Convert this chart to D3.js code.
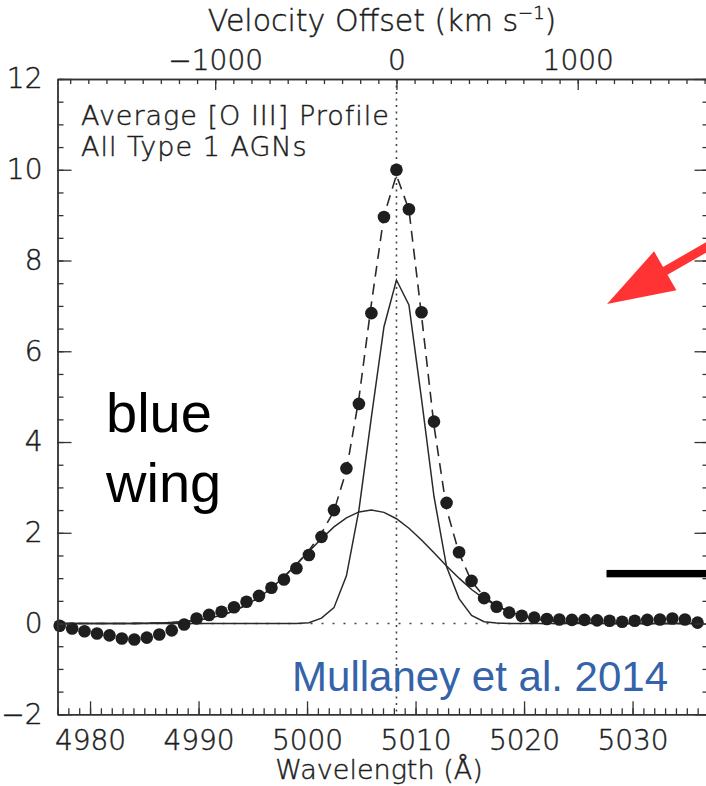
<!DOCTYPE html>
<html>
<head>
<meta charset="utf-8">
<script src="https://cdn.jsdelivr.net/npm/d3@7/dist/d3.min.js"></script>
<style>
  html, body { margin: 0; padding: 0; background: #fff; }
  svg { display: block; }
  .lab, .ax text {
    font-family: "DejaVu Sans", sans-serif; font-weight: 300;
    fill: #1c1c1c; stroke: #1c1c1c; stroke-width: 0.45px;
  }
</style>
</head>
<body>
<svg id="chart" width="706" height="786"></svg>
<script>
// Average [O III] 5007 profile of type 1 AGNs, with a two-Gaussian decomposition.
const restWavelength = 5008.24;          // vacuum [O III] line centre, Å
const speedOfLight = 299792.458;         // km/s

// Spectral pixels (Å)
const wavelength = [
  4977.20, 4978.35, 4979.49, 4980.64, 4981.79, 4982.93, 4984.08, 4985.23, 4986.38, 4987.53,
  4988.67, 4989.82, 4990.97, 4992.12, 4993.27, 4994.42, 4995.57, 4996.72, 4997.87, 4999.02,
  5000.17, 5001.33, 5002.48, 5003.63, 5004.78, 5005.93, 5007.09, 5008.24, 5009.39, 5010.55,
  5011.70, 5012.86, 5014.01, 5015.16, 5016.32, 5017.47, 5018.63, 5019.79, 5020.94, 5022.10,
  5023.25, 5024.41, 5025.57, 5026.73, 5027.88, 5029.04, 5030.20, 5031.36, 5032.52, 5033.67,
  5034.83, 5035.99
];

// Stacked flux
const observed = [
  -0.05, -0.11, -0.17, -0.22, -0.26, -0.33, -0.35, -0.31, -0.24, -0.15,
  -0.02, 0.11, 0.19, 0.26, 0.36, 0.48, 0.61, 0.79, 0.97, 1.22,
  1.51, 1.91, 2.50, 3.42, 4.84, 6.84, 8.96, 10.00, 9.13, 6.86,
  4.45, 2.66, 1.57, 0.94, 0.56, 0.37, 0.24, 0.17, 0.13, 0.10,
  0.09, 0.08, 0.08, 0.07, 0.06, 0.04, 0.06, 0.08, 0.09, 0.11,
  0.09, 0.02
];

// Narrow (core) Gaussian component
const narrowFit = [
  0, 0, 0, 0, 0, 0, 0, 0, 0, 0,
  0, 0, 0, 0, 0, 0, 0, 0, 0, 0,
  0.02, 0.12, 0.35, 1.05, 2.50, 4.55, 6.54, 7.57, 7.02, 4.95,
  2.80, 1.25, 0.55, 0.18, 0.04, 0.01, 0, 0, 0, 0,
  0, 0, 0, 0, 0, 0, 0, 0, 0, 0,
  0, 0
];

// Broad (wing) Gaussian component
const broadFit = [
  0, 0, 0, 0, 0.001, 0.002, 0.003, 0.007, 0.013, 0.023,
  0.04, 0.07, 0.115, 0.18, 0.28, 0.41, 0.575, 0.78, 1.03, 1.30,
  1.59, 1.87, 2.13, 2.33, 2.46, 2.50, 2.45, 2.31, 2.10, 1.84,
  1.56, 1.27, 1.00, 0.75, 0.55, 0.39, 0.26, 0.17, 0.107, 0.065,
  0.038, 0.021, 0.012, 0.006, 0.003, 0.001, 0, 0, 0, 0,
  0, 0
];

// Combined fit
const totalFit = [
  0, 0, 0, 0, 0.001, 0.002, 0.003, 0.007, 0.013, 0.023,
  0.04, 0.07, 0.115, 0.18, 0.28, 0.41, 0.575, 0.78, 1.03, 1.30,
  1.61, 1.99, 2.48, 3.38, 4.96, 7.05, 8.99, 9.88, 9.12, 6.79,
  4.36, 2.52, 1.55, 0.93, 0.59, 0.40, 0.26, 0.17, 0.107, 0.065,
  0.038, 0.021, 0.012, 0.006, 0.003, 0.001, 0, 0, 0, 0,
  0, 0
];

const wavelengthTicks = [4980, 4990, 5000, 5010, 5020, 5030];
const fluxTicks = [-2, 0, 2, 4, 6, 8, 10, 12];
const velocityTicks = [-1000, 0, 1000];

const svg = d3.select("#chart");
const plotLeft = 57.5, plotRight = 708.5, plotTop = 79, plotBottom = 714.3;
const axisColor = "#333";

const x = d3.scaleLinear().domain([4977, 5037]).range([plotLeft, plotRight]);
const y = d3.scaleLinear().domain([-2, 12]).range([plotBottom, plotTop]);
const toVelocity = l => speedOfLight * (l - restWavelength) / restWavelength;
const xv = d3.scaleLinear().domain(x.domain().map(toVelocity)).range([plotLeft, plotRight]);

svg.append("defs").append("clipPath").attr("id", "plotClip")
  .append("rect").attr("x", plotLeft).attr("y", plotTop)
  .attr("width", plotRight - plotLeft).attr("height", plotBottom - plotTop);

// Reference lines: zero flux and line centre
const plot = svg.append("g").attr("clip-path", "url(#plotClip)");
plot.append("line")
  .attr("x1", plotLeft).attr("x2", plotRight).attr("y1", y(0)).attr("y2", y(0))
  .attr("stroke", "#444").attr("stroke-width", 1.6).attr("stroke-dasharray", "2,9");
plot.append("line")
  .attr("x1", x(restWavelength)).attr("x2", x(restWavelength)).attr("y1", plotTop).attr("y2", plotBottom)
  .attr("stroke", "#444").attr("stroke-width", 1.6).attr("stroke-dasharray", "2,4.5");

const line = series => d3.line()
  .x((d, i) => x(wavelength[i]))
  .y(d => y(d))(series);

plot.append("path").attr("d", line(narrowFit))
  .attr("fill", "none").attr("stroke", "#2a2a2a").attr("stroke-width", 1.5);
plot.append("path").attr("d", line(broadFit))
  .attr("fill", "none").attr("stroke", "#2a2a2a").attr("stroke-width", 1.5);
plot.append("path").attr("d", line(totalFit))
  .attr("fill", "none").attr("stroke", "#2a2a2a").attr("stroke-width", 1.6)
  .attr("stroke-dasharray", "11,7");

svg.append("g").selectAll("circle").data(observed).join("circle")
  .attr("cx", (d, i) => x(wavelength[i]))
  .attr("cy", d => y(d))
  .attr("r", 6.3)
  .attr("fill", "#1e1e1e");

// Axes
function styleAxis(g, fontSize) {
  g.attr("class", "ax");
  g.selectAll("path.domain").attr("stroke", axisColor).attr("stroke-width", 1.4);
  g.selectAll(".tick line").attr("stroke", axisColor).attr("stroke-width", 1.3);
  g.selectAll(".tick text").attr("font-size", fontSize).attr("font-family", null).attr("fill", null);
}

const minorWave = d3.range(4977, 5038, 1);
const minorFlux = d3.range(-2, 12.01, 0.5);
const minorVel = d3.range(-1800, 1701, 100);

// bottom
svg.append("g").attr("transform", `translate(0,${plotBottom})`)
  .call(d3.axisBottom(x).tickValues(minorWave).tickSize(-6).tickSizeOuter(0).tickFormat(""))
  .call(g => styleAxis(g, 28));
svg.append("g").attr("transform", `translate(0,${plotBottom})`)
  .call(d3.axisBottom(x).tickValues(wavelengthTicks).tickSize(-13).tickSizeOuter(0)
    .tickPadding(16).tickFormat(d3.format("d")))
  .call(g => styleAxis(g, 28));

// top
svg.append("g").attr("transform", `translate(0,${plotTop})`)
  .call(d3.axisTop(xv).tickValues(minorVel).tickSize(-5).tickSizeOuter(0).tickFormat(""))
  .call(g => styleAxis(g, 28));
svg.append("g").attr("transform", `translate(0,${plotTop})`)
  .call(d3.axisTop(xv).tickValues(velocityTicks).tickSize(-11).tickSizeOuter(0)
    .tickPadding(9).tickFormat(d3.format("d")))
  .call(g => styleAxis(g, 28));

// left
svg.append("g").attr("transform", `translate(${plotLeft},0)`)
  .call(d3.axisLeft(y).tickValues(minorFlux).tickSize(-6).tickSizeOuter(0).tickFormat(""))
  .call(g => styleAxis(g, 28));
svg.append("g").attr("transform", `translate(${plotLeft},0)`)
  .call(d3.axisLeft(y).tickValues(fluxTicks).tickSize(-14).tickSizeOuter(0)
    .tickPadding(15).tickFormat(d3.format("d")))
  .call(g => styleAxis(g, 28));

// right
svg.append("g").attr("transform", `translate(${plotRight},0)`)
  .call(d3.axisRight(y).tickValues(minorFlux).tickSize(-6).tickSizeOuter(0).tickFormat(""))
  .call(g => styleAxis(g, 28));
svg.append("g").attr("transform", `translate(${plotRight},0)`)
  .call(d3.axisRight(y).tickValues(fluxTicks).tickSize(-14).tickSizeOuter(0).tickFormat(""))
  .call(g => styleAxis(g, 28));

// Axis titles
const cx = (plotLeft + plotRight) / 2;
const title = svg.append("text").attr("class", "lab")
  .attr("x", cx - 1).attr("y", 31).attr("text-anchor", "middle")
  .attr("font-size", 30);
title.append("tspan").text("Velocity Offset (km s");
title.append("tspan").attr("font-size", 18).attr("dy", -12).text("\u22121");
title.append("tspan").attr("dy", 12).text(")");

svg.append("text").attr("class", "lab")
  .attr("x", cx - 4).attr("y", 779).attr("text-anchor", "middle")
  .attr("font-size", 27)
  .text("Wavelength (\u00C5)");

// Panel label (two lines)
const panel = svg.append("text").attr("class", "lab")
  .attr("font-size", 27).attr("letter-spacing", 1);
panel.append("tspan").attr("x", 81).attr("y", 125).text("Average [O III] Profile");
panel.append("tspan").attr("x", 81).attr("y", 156).text("All Type 1 AGNs");

// Annotations
svg.append("text")
  .attr("x", 106).attr("y", 432)
  .attr("font-family", "Liberation Sans, Arial, sans-serif").attr("font-size", 56).attr("fill", "#000")
  .text("blue");
svg.append("text")
  .attr("x", 106).attr("y", 502)
  .attr("font-family", "Liberation Sans, Arial, sans-serif").attr("font-size", 56).attr("fill", "#000")
  .text("wing");

svg.append("text")
  .attr("x", 668).attr("y", 691).attr("text-anchor", "end")
  .attr("font-family", "Liberation Sans, Arial, sans-serif").attr("font-size", 42).attr("fill", "#3563a9")
  .text("Mullaney et al. 2014");

// Horizontal marker bar at flux ~1.1
svg.append("rect")
  .attr("x", x(5027.6)).attr("y", y(1.1) - 3.7)
  .attr("width", 120).attr("height", 7.4)
  .attr("fill", "#000");

// Red arrow pointing into the panel
const tip = [x(5027.65), y(7.04)];
const ang = Math.atan2(-33.5, 58.6);
const ux = Math.cos(ang), uy = Math.sin(ang);
const headLen = 67, headHalf = 22.5;
const base = [tip[0] + ux * headLen, tip[1] + uy * headLen];
const px = -uy, py = ux;
svg.append("line")
  .attr("x1", base[0] - ux * 4).attr("y1", base[1] - uy * 4)
  .attr("x2", base[0] + ux * 120).attr("y2", base[1] + uy * 120)
  .attr("stroke", "#ff3333").attr("stroke-width", 9);
svg.append("path")
  .attr("d", `M${tip[0]},${tip[1]} L${base[0] + px * headHalf},${base[1] + py * headHalf} L${base[0] - px * headHalf},${base[1] - py * headHalf} Z`)
  .attr("fill", "#ff3333");
</script>
</body>
</html>
